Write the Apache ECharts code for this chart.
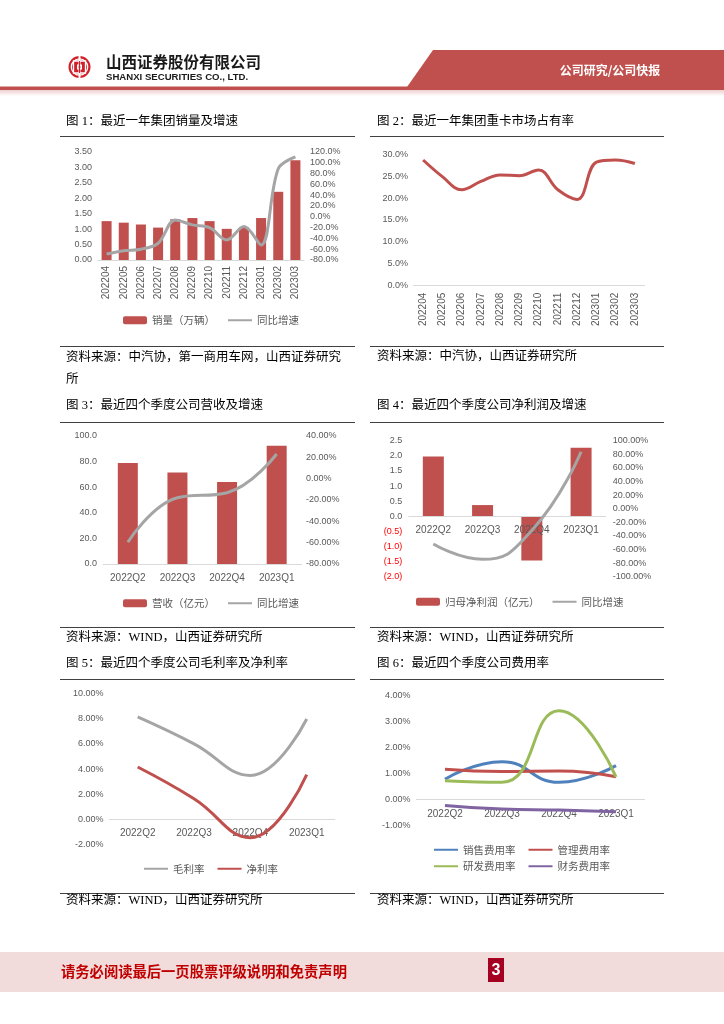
<!DOCTYPE html>
<html>
<head>
<meta charset="utf-8">
<script src="https://cdn.jsdelivr.net/npm/echarts@6/dist/echarts.min.js"></script>
<style>html,body{margin:0;padding:0;background:#fff;}#main{width:724px;height:1024px;}</style>
</head>
<body>
<div id="main"></div>
<script>
// ---------- data ----------
const months = ['202204','202205','202206','202207','202208','202209','202210','202211','202212','202301','202302','202303'];
const salesVolume = [1.26,1.21,1.15,1.05,1.32,1.36,1.26,1.01,1.06,1.36,2.21,3.23];
const salesYoY = [-69,-63,-60,-49,-6,-15,-20,-43,-18,-52,89,111];
const marketShare = [28.7,24.9,21.9,23.8,25.3,25.1,26.4,21.9,19.7,28.2,28.7,27.9];
const quarters = ['2022Q2','2022Q3','2022Q4','2023Q1'];
const revenue = [78.7,71.4,63.9,92.2];
const revenueYoY = [-59.7,-18,-13.3,22.9];
const netProfit = [1.98,0.37,-1.46,2.27];
const netProfitYoY = [-52,-74.5,-32,83.8];
const grossMargin = [8.13,6.0,3.5,7.97];
const netMargin = [4.17,1.66,-1.42,3.56];
const sellingExp = [0.79,1.46,0.67,1.31];
const adminExp = [1.17,1.08,1.10,0.88];
const rdExp = [0.73,0.67,3.42,0.88];
const finExp = [-0.22,-0.36,-0.40,-0.46];

const titles = {
  t1:'图 1：最近一年集团销量及增速',
  t2:'图 2：最近一年集团重卡市场占有率',
  t3:'图 3：最近四个季度公司营收及增速',
  t4:'图 4：最近四个季度公司净利润及增速',
  t5:'图 5：最近四个季度公司毛利率及净利率',
  t6:'图 6：最近四个季度公司费用率'
};
const sources = {
  s1a:'资料来源：中汽协，第一商用车网，山西证券研究', s1b:'所',
  s2:'资料来源：中汽协，山西证券研究所',
  s3:'资料来源：WIND，山西证券研究所'
};

// ---------- styles ----------
const RED = '#C0504D', GRAY = '#A5A5A5', LBL = '#595959', AXL = '#D9D9D9';
const NUMF = "'Liberation Sans', Arial, sans-serif";
const CJK = "'Noto Sans CJK SC', sans-serif";
const TXTF = "'Liberation Serif', 'Noto Sans CJK SC', serif";

function cat(grid, data, opt) {
  return Object.assign({
    type:'category', gridIndex:grid, data:data,
    axisLine:{show:true, onZero:false, lineStyle:{color:AXL, width:1}},
    axisTick:{show:false},
    axisLabel:{color:LBL, fontSize:10, fontFamily:NUMF, interval:0, margin:9},
    splitLine:{show:false}, z:3
  }, opt || {});
}
function val(grid, min, max, interval, fmt, opt) {
  return Object.assign({
    type:'value', gridIndex:grid, min:min, max:max, interval:interval,
    axisLine:{show:false}, axisTick:{show:false}, splitLine:{show:false},
    axisLabel:{color:LBL, fontSize:9, fontFamily:NUMF, formatter:fmt, margin:6}
  }, opt || {});
}

const grids = [
  {left:98, top:152, width:206, height:108},
  {left:413.5, top:154.3, width:231, height:131.4},
  {left:103, top:435.7, width:198.5, height:128.3},
  {left:408.7, top:440.7, width:197, height:136},
  {left:109.5, top:693.3, width:225.4, height:151.7},
  {left:416.5, top:695.7, width:228, height:130}
];
// offset that moves a bottom category axis up to the zero line of a value range
const zeroOffset = (gi, min, max) => -grids[gi].height * (0 - min) / (max - min);

const xAxes = [
  cat(0, months, {axisLabel:{color:LBL, fontSize:10, fontFamily:NUMF, interval:0, rotate:90, margin:6}}),
  cat(1, months, {axisLabel:{color:LBL, fontSize:10, fontFamily:NUMF, interval:0, rotate:90, margin:7}}),
  cat(2, quarters),
  cat(3, quarters, {offset:zeroOffset(3, -2, 2.5)}),
  cat(4, quarters, {offset:zeroOffset(4, -2, 10)}),
  cat(5, quarters, {offset:zeroOffset(5, -1, 4), axisLabel:{color:LBL, fontSize:10, fontFamily:NUMF, interval:0, margin:9.5}})
];

const yAxes = [
  val(0, 0, 3.5, 0.5, v => v.toFixed(2)),                                  // 0
  val(0, -80, 120, 20, v => v.toFixed(1) + '%', {position:'right'}),       // 1
  val(1, 0, 30, 5, null, {axisLabel:{color:LBL, fontSize:9, fontFamily:NUMF, formatter:v => v.toFixed(1)+'%', margin:5.5}}), // 2
  val(2, 0, 100, 20, v => v.toFixed(1)),                                    // 3
  val(2, -80, 40, 20, null, {position:'right', axisLabel:{color:LBL, fontSize:9, fontFamily:NUMF, formatter:v => v.toFixed(2)+'%', margin:4.5}}), // 4
  val(3, -2, 2.5, 0.5, null, {axisLabel:{fontSize:9, fontFamily:NUMF, margin:6.4,
      formatter:v => v < 0 ? '(' + (-v).toFixed(1) + ')' : v.toFixed(1),
      color:v => parseFloat(v) < 0 ? '#FF0000' : LBL}}),                    // 5
  val(3, -100, 100, 20, null, {position:'right', axisLabel:{color:LBL, fontSize:9, fontFamily:NUMF, formatter:v => v.toFixed(2)+'%', margin:7}}), // 6
  val(4, -2, 10, 2, v => v.toFixed(2) + '%'),                               // 7
  val(5, -1, 4, 1, v => v.toFixed(2) + '%')                                 // 8
];

const lineBase = (name, x, y, data, color, smooth) => ({
  name:name, type:'line', xAxisIndex:x, yAxisIndex:y, data:data,
  symbol:'none', smooth:smooth, lineStyle:{color:color, width:3}, itemStyle:{color:color}, z:4
});
const barBase = (name, x, y, data, w) => ({
  name:name, type:'bar', xAxisIndex:x, yAxisIndex:y, data:data, barWidth:w,
  itemStyle:{color:RED}, z:2
});

const series = [
  barBase('销量（万辆）', 0, 0, salesVolume, 10),
  lineBase('同比增速', 0, 1, salesYoY, GRAY, 0.35),
  lineBase('市场占有率', 1, 2, marketShare, RED, 0.4),
  barBase('营收（亿元）', 2, 3, revenue, 20),
  lineBase('同比增速', 2, 4, revenueYoY, GRAY, 0.45),
  barBase('归母净利润（亿元）', 3, 5, netProfit, 21),
  lineBase('同比增速', 3, 6, netProfitYoY, GRAY, 0.5),
  lineBase('毛利率', 4, 7, grossMargin, GRAY, 0.45),
  lineBase('净利率', 4, 7, netMargin, RED, 0.45),
  lineBase('销售费用率', 5, 8, sellingExp, '#4F81BD', 0.5),
  lineBase('管理费用率', 5, 8, adminExp, RED, 0.5),
  lineBase('研发费用率', 5, 8, rdExp, '#9BBB59', 0.5),
  lineBase('财务费用率', 5, 8, finExp, '#8064A2', 0.5)
];

const barNames = ['销量（万辆）','营收（亿元）','归母净利润（亿元）'];
const legItem = n => barNames.indexOf(n) >= 0 ? n : {name:n, itemStyle:{opacity:0}};
const legBase = (left, top, data) => ({
  left:left, top:top, data:data.map(legItem), itemWidth:24, itemHeight:8, itemGap:12, padding:0,
  selectedMode:false,
  textStyle:{color:LBL, fontSize:10.5, fontFamily:CJK}
});
const legends = [
  legBase(123, 315, ['销量（万辆）','同比增速']),
  legBase(123, 598, ['营收（亿元）','同比增速']),
  legBase(416, 596.5, ['归母净利润（亿元）','同比增速']),
  legBase(143, 863.5, ['毛利率','净利率']),
  legBase(433, 844.5, ['销售费用率','管理费用率']),
  legBase(433, 861, ['研发费用率','财务费用率'])
];

// ---------- page graphics ----------
const g = [];
function txt(x, y, s, font, fill, align) {
  g.push({type:'text', x:x, y:y, silent:true, style:{text:s, font:font, fill:fill, align:align||'left', verticalAlign:'middle', textAlign:align||'left', textVerticalAlign:'middle'}});
}
function hline(x1, x2, y, color, w) {
  g.push({type:'line', silent:true, shape:{x1:x1, y1:y, x2:x2, y2:y}, style:{stroke:color, lineWidth:w}});
}
// header
g.push({type:'polygon', silent:true, shape:{points:[[433,50],[724,50],[724,87],[407,87]]}, style:{fill:RED}});
g.push({type:'rect', silent:true, shape:{x:0, y:86.5, width:724, height:3.5}, style:{fill:RED}});
g.push({type:'rect', silent:true, shape:{x:0, y:90, width:724, height:6},
  style:{fill:new echarts.graphic.LinearGradient(0,0,0,1,[{offset:0,color:'#EDCFCE'},{offset:1,color:'#FFFFFF'}])}});
txt(610, 70, '公司研究/公司快报', "bold 12px 'Noto Sans CJK SC'", '#FFFFFF', 'center');
// logo
const LX = 79.5, LY = 67;
g.push({type:'circle', silent:true, shape:{cx:LX, cy:LY, r:11}, style:{fill:'#D0202A'}});
g.push({type:'circle', silent:true, shape:{cx:LX, cy:LY, r:8.2}, style:{fill:'none', stroke:'#FFFFFF', lineWidth:1.3}});
g.push({type:'rect', silent:true, shape:{x:LX-6, y:LY-6, width:12, height:12}, style:{fill:'#D0202A', stroke:'#FFFFFF', lineWidth:1.3}});
g.push({type:'rect', silent:true, shape:{x:LX-2.5, y:LY-2.5, width:5, height:5}, style:{fill:'#FFFFFF'}});
g.push({type:'rect', silent:true, shape:{x:LX-1.2, y:LY-1.2, width:2.4, height:2.4}, style:{fill:'#D0202A'}});
g.push({type:'rect', silent:true, shape:{x:LX-1, y:LY-12.5, width:2, height:25}, style:{fill:'#FFFFFF'}});
g.push({type:'rect', silent:true, shape:{x:LX-0.5, y:LY-6, width:1, height:12}, style:{fill:'#D0202A'}});
txt(106, 62, '山西证券股份有限公司', "bold 15.5px 'Noto Sans CJK SC'", '#1A1A1A');
txt(106, 77.5, 'SHANXI SECURITIES CO., LTD.', "bold 9.6px 'Liberation Sans'", '#1A1A1A');

// section texts
const TF = "12.5px " + TXTF;
const LC = '#404040';
txt(66, 122, titles.t1, TF, '#000'); hline(60, 355, 136.5, LC, 1.2);
txt(377, 122, titles.t2, TF, '#000'); hline(370, 664, 136.5, LC, 1.2);
hline(60, 355, 346.5, LC, 1.2); hline(370, 664, 346.5, LC, 1.2);
txt(66, 357.5, sources.s1a, TF, '#000'); txt(66, 380, sources.s1b, TF, '#000');
txt(377, 357, sources.s2, TF, '#000');
txt(66, 406, titles.t3, TF, '#000'); hline(60, 355, 422.5, LC, 1.2);
txt(377, 406, titles.t4, TF, '#000'); hline(370, 664, 422.5, LC, 1.2);
hline(60, 355, 627.5, LC, 1.2); hline(370, 664, 627.5, LC, 1.2);
txt(66, 637.5, sources.s3, TF, '#000'); txt(377, 637.5, sources.s3, TF, '#000');
txt(66, 663.5, titles.t5, TF, '#000'); hline(60, 355, 679.5, LC, 1.2);
txt(377, 663.5, titles.t6, TF, '#000'); hline(370, 664, 679.5, LC, 1.2);
hline(60, 355, 893.5, LC, 1.2); hline(370, 664, 893.5, LC, 1.2);
txt(66, 901, sources.s3, TF, '#000'); txt(377, 901, sources.s3, TF, '#000');

// footer
g.push({type:'rect', silent:true, shape:{x:0, y:952, width:724, height:40}, style:{fill:'#F2DCDB'}});
txt(61, 972, '请务必阅读最后一页股票评级说明和免责声明', "bold 14.3px 'Noto Sans CJK SC'", '#C00000');
g.push({type:'rect', silent:true, shape:{x:488, y:958, width:16, height:24}, style:{fill:'#A50021'}});
txt(496, 970.5, '3', "bold 16px 'Liberation Sans'", '#FFFFFF', 'center');

const chart = echarts.init(document.getElementById('main'), null, {renderer:'canvas'});
chart.setOption({
  backgroundColor:'#FFFFFF',
  animation:false,
  grid:grids,
  xAxis:xAxes,
  yAxis:yAxes,
  legend:legends,
  series:series,
  graphic:g
});
</script>
</body>
</html>
